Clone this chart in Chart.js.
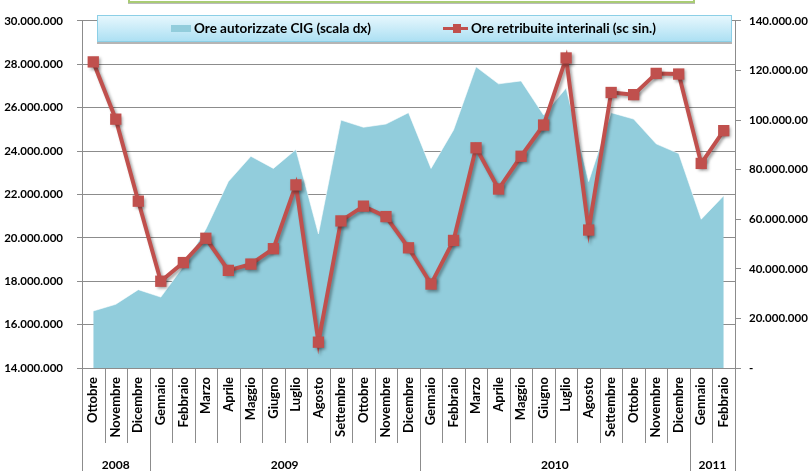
<!DOCTYPE html>
<html>
<head>
<meta charset="utf-8">
<script src="https://cdn.jsdelivr.net/npm/chart.js@4.4.1/dist/chart.umd.min.js"></script>
<style>
  html, body { margin: 0; padding: 0; background: #fff; overflow: hidden; }
  #wrap { position: relative; width: 808px; height: 471px; }
  canvas { position: absolute; left: 0; top: 0; }
  #titlebox { position: absolute; left: 128px; top: -22px; width: 563px; height: 21px;
    border: 2px solid #a9cc74; background: #fff; box-shadow: 0 1px 0 #bbb; }
  #legend { position: absolute; left: 97px; top: 15px; width: 633px; height: 25px;
    border: 1px solid #8ccfe6; background: linear-gradient(#e6f7fd, #ade0f3);
    box-shadow: 0 2px 0 #b5b5b5; font-family: Lato, sans-serif; font-weight: bold;
    font-size: 13.5px; color: #000; }
  .lt { position: absolute; top: 4px; white-space: nowrap; }
  .sw-area { position: absolute; left: 73px; top: 9px; width: 20px; height: 7px; background: #92cddc; }
  .sw-line { position: absolute; left: 345px; top: 11px; width: 25px; height: 3px; background: #c0504d; }
  .sw-mark { position: absolute; left: 355px; top: 8px; width: 8px; height: 9px; background: #c0504d; }
</style>
</head>
<body>
<div id="wrap">
  <canvas id="c" width="808" height="471"></canvas>
  <div id="titlebox"></div>
  <div id="legend">
    <div class="sw-area"></div>
    <div class="lt" style="left:96px">Ore autorizzate CIG (scala dx)</div>
    <div class="sw-line"></div><div class="sw-mark"></div>
    <div class="lt" style="left:373px">Ore retribuite interinali (sc sin.)</div>
  </div>
</div>
<script>
const months = ['Ottobre','Novembre','Dicembre',
  'Gennaio','Febbraio','Marzo','Aprile','Maggio','Giugno','Luglio','Agosto','Settembre','Ottobre','Novembre','Dicembre',
  'Gennaio','Febbraio','Marzo','Aprile','Maggio','Giugno','Luglio','Agosto','Settembre','Ottobre','Novembre','Dicembre',
  'Gennaio','Febbraio'];
const yearLabels = ['2008','2009','2010','2011'];
const yearCounts = [3, 12, 12, 2];

const oreInterinali = [28110000, 25470000, 21690000, 18000000, 18860000, 19980000, 18500000, 18790000, 19500000,
  22440000, 15190000, 20780000, 21460000, 20980000, 19540000, 17870000, 19880000, 24150000, 22250000,
  23760000, 25200000, 28290000, 20360000, 26700000, 26600000, 27580000, 27550000, 23430000, 24940000];
const oreCIG = [23000000, 25700000, 31600000, 28600000, 40900000, 56000000, 75200000, 85400000, 80500000,
  88100000, 54100000, 100000000, 97100000, 98400000, 103000000, 80500000, 96000000, 121500000, 114600000,
  115800000, 102000000, 112900000, 75200000, 103000000, 100400000, 90400000, 86500000, 60000000, 69500000];

const leftTicks = { min: 14000000, max: 30000000, step: 2000000 };
const rightTicks = { min: 0, max: 140000000, step: 20000000 };

function fmt(v) {
  if (v === 0) return '-';
  return Math.round(v).toString().replace(/\B(?=(\d{3})+(?!\d))/g, '.');
}

const FONT = 'Lato, sans-serif';

const axisDeco = {
  id: 'axisDeco',
  afterDraw(chart) {
    const ctx = chart.ctx, x = chart.scales.x, area = chart.chartArea;
    const step = x.getPixelForValue(1) - x.getPixelForValue(0);
    const bound = i => x.getPixelForValue(0) - step / 2 + i * step;
    ctx.save();
    ctx.strokeStyle = '#8c8c8c';
    ctx.lineWidth = 1;
    for (let i = 0; i <= months.length; i++) {
      const bx = Math.round(bound(i)) + 0.5;
      ctx.beginPath(); ctx.moveTo(bx, area.bottom); ctx.lineTo(bx, 443); ctx.stroke();
    }
    let start = 0;
    ctx.fillStyle = '#000';
    ctx.font = 'bold 12px ' + FONT;
    ctx.textAlign = 'center';
    ctx.textBaseline = 'middle';
    const edges = [0];
    yearCounts.forEach(c => { start += c; edges.push(start); });
    edges.forEach(e => {
      const bx = Math.round(bound(e)) + 0.5;
      ctx.beginPath(); ctx.moveTo(bx, area.bottom); ctx.lineTo(bx, chart.height); ctx.stroke();
    });
    yearLabels.forEach((lab, k) => {
      const cx = (bound(edges[k]) + bound(edges[k + 1])) / 2;
      ctx.fillText(lab, cx, 465);
    });
    ctx.restore();
  }
};

const lineShadow = {
  id: 'lineShadow',
  beforeDatasetDraw(chart, args) {
    if (args.index === 0) {
      const ctx = chart.ctx;
      ctx.save();
      ctx.shadowColor = 'rgba(0,0,0,0.35)';
      ctx.shadowBlur = 3;
      ctx.shadowOffsetX = 2;
      ctx.shadowOffsetY = 2;
    }
  },
  afterDatasetDraw(chart, args) {
    if (args.index === 0) chart.ctx.restore();
  }
};

new Chart(document.getElementById('c'), {
  type: 'line',
  data: {
    labels: months,
    datasets: [
      {
        label: 'Ore retribuite interinali (sc sin.)',
        data: oreInterinali,
        yAxisID: 'y',
        borderColor: '#c0504d',
        backgroundColor: '#c0504d',
        borderWidth: 4,
        pointStyle: 'rect',
        pointRadius: 8,
        pointBackgroundColor: '#c0504d',
        pointBorderColor: '#c0504d',
        pointBorderWidth: 0,
        tension: 0,
        order: 0
      },
      {
        label: 'Ore autorizzate CIG (scala dx)',
        data: oreCIG,
        yAxisID: 'y1',
        fill: 'origin',
        backgroundColor: '#92cddc',
        borderColor: 'rgba(255,255,255,0.6)',
        borderWidth: 1,
        pointRadius: 0,
        tension: 0,
        order: 1
      }
    ]
  },
  options: {
    responsive: false,
    animation: false,
    layout: { padding: { top: 15, left: 0, right: 0, bottom: 0 } },
    plugins: { legend: { display: false }, tooltip: { enabled: false } },
    scales: {
      x: {
        type: 'category',
        offset: true,
        grid: { display: false, drawTicks: false },
        border: { display: true, color: '#8c8c8c' },
        ticks: {
          autoSkip: false, maxRotation: 90, minRotation: 90, padding: 9,
          color: '#000', font: { family: FONT, weight: 'bold', size: 13 }
        },
        afterFit(s) { s.height = 103; }
      },
      y: {
        position: 'left',
        min: leftTicks.min, max: leftTicks.max,
        grid: { color: '#8c8c8c', lineWidth: 1, tickLength: 5 },
        border: { color: '#8c8c8c' },
        ticks: {
          stepSize: leftTicks.step, padding: 14, color: '#000',
          font: { family: FONT, weight: 'bold', size: 11.5 },
          callback: v => fmt(v)
        },
        afterFit(s) { s.width = 82; }
      },
      y1: {
        position: 'right',
        min: rightTicks.min, max: rightTicks.max,
        grid: { drawOnChartArea: false, color: '#8c8c8c', tickLength: 6 },
        border: { color: '#8c8c8c' },
        ticks: {
          stepSize: rightTicks.step, padding: 8, color: '#000',
          font: { family: FONT, weight: 'bold', size: 11.5 },
          callback: v => fmt(v)
        },
        afterFit(s) { s.width = 73; }
      }
    }
  },
  plugins: [axisDeco, lineShadow]
});
</script>
</body>
</html>
